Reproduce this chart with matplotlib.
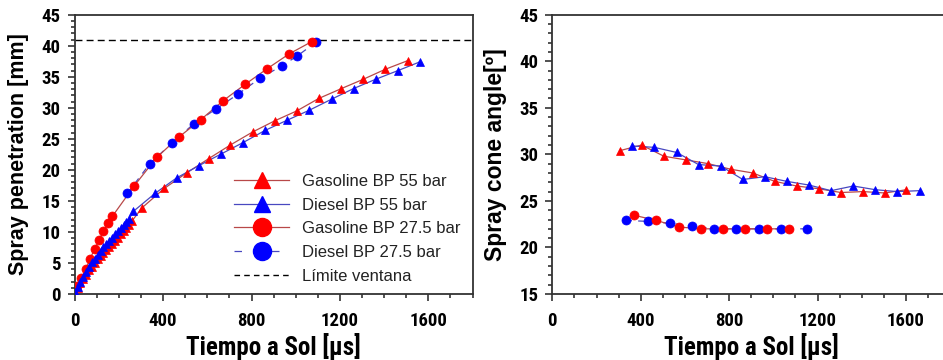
import matplotlib
matplotlib.use("Agg")
import matplotlib.pyplot as plt
from matplotlib.lines import Line2D
from matplotlib import font_manager as fm
from matplotlib.font_manager import FontProperties
from matplotlib.textpath import TextPath
from matplotlib.ticker import MultipleLocator

# ---------------- data: left panel (spray penetration) ----------------
t_gas55 = [0, 13, 26, 39, 52, 65, 78, 91, 104, 117, 130, 143, 156, 169, 182, 195, 208, 221, 234, 247, 260,
           305, 405, 506, 606, 704, 805, 905, 1005, 1104, 1207, 1306, 1405, 1507]
p_gas55 = [0.3, 1.0, 1.7, 2.4, 3.1, 3.8, 4.4, 5.0, 5.6, 6.1, 6.6, 7.1, 7.6, 8.1, 8.6, 9.1, 9.6, 10.1, 10.6, 11.1, 11.8,
           13.9, 17.0, 19.5, 21.8, 24.0, 26.1, 27.9, 29.5, 31.5, 33.1, 34.6, 36.2, 37.6]

t_die55 = [0, 13, 26, 39, 52, 65, 78, 91, 104, 117, 130, 143, 156, 169, 182, 195, 208, 221, 234, 247, 265,
           363, 461, 563, 662, 762, 861, 961, 1061, 1163, 1262, 1362, 1463, 1562]
p_die55 = [0.4, 1.2, 2.0, 2.8, 3.6, 4.4, 5.1, 5.7, 6.3, 6.9, 7.5, 8.1, 8.6, 9.1, 9.6, 10.1, 10.6, 11.1, 11.6, 12.1, 13.3,
           16.2, 18.7, 20.7, 22.55, 24.4, 26.35, 28.0, 29.6, 31.4, 33.1, 34.6, 36.0, 37.4]

t_gas27 = [9, 30, 50, 70, 90, 110, 130, 150, 170, 270, 371, 472, 571, 672, 772, 871, 971, 1072]
p_gas27 = [1.3, 2.5, 4.0, 5.7, 7.25, 8.7, 10.15, 11.4, 12.5, 17.45, 22.0, 25.3, 28.1, 31.15, 33.8, 36.3, 38.7, 40.65]

t_die27 = [238, 340, 439, 538, 639, 739, 838, 939, 1005, 1091]
p_die27 = [16.2, 21.0, 24.3, 27.4, 29.8, 32.2, 34.75, 36.8, 38.3, 40.55]

window_limit = 41

# ---------------- data: right panel (spray cone angle) ----------------
ta_gas55 = [306, 404, 505, 605, 706, 807, 907, 1006, 1106, 1207, 1306, 1406, 1505, 1602]
a_gas55 = [30.4, 31.0, 29.8, 29.4, 29.0, 28.4, 28.0, 27.1, 26.6, 26.3, 25.9, 26.0, 25.85, 26.2]

ta_die55 = [362, 462, 563, 662, 762, 862, 961, 1061, 1162, 1261, 1362, 1462, 1561, 1662]
a_die55 = [30.9, 30.75, 30.2, 28.9, 28.75, 27.3, 27.6, 27.1, 26.7, 26.1, 26.6, 26.2, 26.0, 26.1]

ta_gas27 = [371, 471, 572, 671, 771, 871, 971, 1071]
a_gas27 = [23.45, 22.9, 22.2, 22.0, 22.0, 22.0, 22.0, 22.0]

ta_die27 = [332, 433, 533, 634, 733, 833, 934, 1034, 1151]
a_die27 = [22.9, 22.8, 22.6, 22.3, 22.0, 22.0, 22.0, 22.0, 22.0]

x_ticks = [0, 400, 800, 1200, 1600]
labels = ["Gasoline BP 55 bar", "Diesel BP 55 bar", "Gasoline BP 27.5 bar", "Diesel BP 27.5 bar", "Límite ventana"]
xlabel_text = "Tiempo a Sol [\u03bcs]"

RED = "#ff0000"
BLUE = "#0000ff"
RLINE = "#b84848"
BLINE = "#4848c0"
SPINE = "#333333"
SANS = "Liberation Sans"

# ---- pick a condensed bold font if one is installed ----
def find_condensed():
    best = None
    for f in fm.fontManager.ttflist:
        nm = f.name.lower()
        fn = f.fname.lower()
        narrow = ("narrow" in nm or "condensed" in nm or "narrow" in fn or "condensed" in fn
                  or str(f.stretch) in ("condensed", "semi-condensed", "extra-condensed"))
        bold = (f.weight in ("bold", 700, "700") or "bold" in fn)
        if narrow and bold and "italic" not in fn and "oblique" not in fn:
            rank = 0 if "liberation" in nm else (1 if "roboto" in nm else 2)
            if best is None or rank < best[0]:
                best = (rank, f.fname)
    return best[1] if best else None

cond = find_condensed()
if cond:
    base_fp = FontProperties(fname=cond)
else:
    base_fp = FontProperties(family=SANS, weight="bold")

def size_for_width(text, px):
    w = TextPath((0, 0), text, size=100, prop=base_fp).get_extents().width
    return px * 72 / 100 * 100 / w

tick_size = min(size_for_width("1600", 36), 13.5)
xlab_size = min(size_for_width("Tiempo a Sol [s]", 172), 18)

def fp(size):
    p = base_fp.copy()
    p.set_size(size)
    return p

W, H = 943, 360
fig = plt.figure(figsize=(W / 100, H / 100), dpi=100)

def px_axes(x0, x1, ytop, ybot):
    return fig.add_axes([x0 / W, (H - ybot) / H, (x1 - x0) / W, (ybot - ytop) / H])

axL = px_axes(74.7, 472.5, 14.7, 294)
axR = px_axes(552.3, 552.3 + 397.8, 14.7, 294)

def style(ax, ymin, ymax):
    ax.set_xlim(0, 1800)
    ax.set_ylim(ymin, ymax)
    ax.set_xticks(x_ticks)
    ax.xaxis.set_minor_locator(MultipleLocator(100))
    ax.yaxis.set_major_locator(MultipleLocator(5))
    ax.yaxis.set_minor_locator(MultipleLocator(1))
    for s in ax.spines.values():
        s.set_linewidth(1.3)
        s.set_color(SPINE)
    ax.tick_params(which="both", direction="out", top=False, right=False, color=SPINE, width=1.2)
    ax.tick_params(which="major", length=5)
    ax.tick_params(axis="x", pad=8)
    ax.tick_params(axis="y", pad=5)
    ax.tick_params(which="minor", length=3)
    for lab in ax.get_xticklabels() + ax.get_yticklabels():
        lab.set_fontproperties(fp(tick_size))
    ax.set_xlabel(xlabel_text, fontproperties=fp(xlab_size), labelpad=2)

style(axL, 0, 45)
style(axR, 15, 45)
axL.set_ylabel("Spray penetration [mm]", fontfamily=SANS, fontweight="bold", fontsize=15.5, labelpad=9)
axR.set_ylabel("Spray cone angle[\u00ba]", fontfamily=SANS, fontweight="bold", fontsize=16.5, labelpad=9)

def draw(ax, t, v, mk, mc, lc, ls, ms):
    ax.plot(t, v, color=lc, lw=0.9, ls=ls, zorder=2)
    ax.plot(t, v, ls="none", marker=mk, ms=ms, mfc=mc, mec=mc, mew=0.5, zorder=3)

dash = (0, (5, 5))
draw(axL, t_die27, p_die27, "o", BLUE, BLINE, dash, 6.5)
draw(axL, t_gas27, p_gas27, "o", RED, RLINE, "-", 6.5)
draw(axL, t_gas55, p_gas55, "^", RED, RLINE, "-", 5.5)
draw(axL, t_die55, p_die55, "^", BLUE, BLINE, "-", 5.5)
axL.axhline(window_limit, color="black", lw=1.0, ls=(0, (5, 3)), zorder=1)

draw(axR, ta_die27, a_die27, "o", BLUE, BLINE, dash, 6.5)
draw(axR, ta_gas27, a_gas27, "o", RED, RLINE, "-", 6.5)
draw(axR, ta_gas55, a_gas55, "^", RED, RLINE, "-", 5.5)
draw(axR, ta_die55, a_die55, "^", BLUE, BLINE, "-", 5.5)

handles = [
    Line2D([], [], color=RLINE, lw=0.9, marker="^", ms=12, mfc=RED, mec=RED),
    Line2D([], [], color=BLINE, lw=0.9, marker="^", ms=12, mfc=BLUE, mec=BLUE),
    Line2D([], [], color=RLINE, lw=0.9, marker="o", ms=13, mfc=RED, mec=RED),
    Line2D([], [], color=BLINE, lw=0.9, ls=(0, (6, 9)), marker="o", ms=13, mfc=BLUE, mec=BLUE),
    Line2D([], [], color="black", lw=1.0, ls=(0, (4, 3))),
]
leg = axL.legend(handles, labels, loc="upper left", frameon=False,
                 bbox_to_anchor=(234 / W, (H - 174) / H), bbox_transform=fig.transFigure,
                 borderpad=0, borderaxespad=0, handlelength=3.3, handletextpad=0.75,
                 labelspacing=0.52, prop={"family": SANS, "size": 12})
for txt in leg.get_texts():
    txt.set_color("#222222")

fig.savefig("out.png", dpi=100)
